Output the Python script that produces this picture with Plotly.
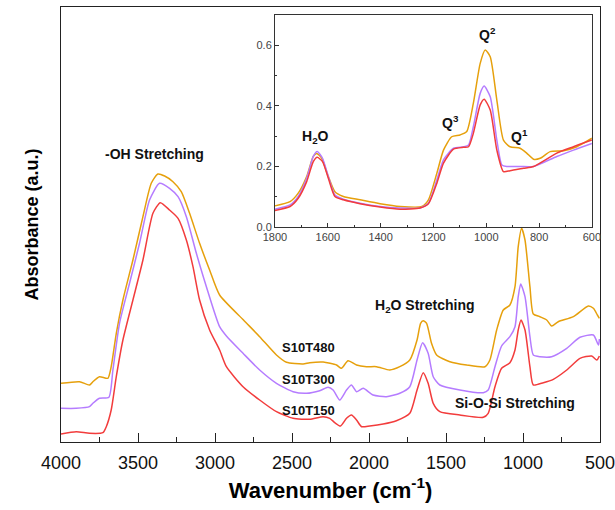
import plotly.graph_objects as go

# ---------------- main spectrum data ----------------
wn_480 = [4000, 3880, 3815, 3793, 3750, 3696, 3674, 3641, 3598, 3533, 3468, 3414, 3371, 3327, 3273, 3219,
          3165, 3100, 3035, 2970, 2815, 2710, 2601, 2536, 2428, 2385, 2298, 2211, 2179, 2136, 2081, 2016,
          1951, 1865, 1800, 1735, 1688, 1665, 1648, 1626, 1594, 1561, 1475, 1366, 1247, 1215, 1171, 1128,
          1085, 1052, 1031, 1009, 987, 955, 933, 890, 846, 814, 771, 673, 576, 543, 517, 504]
ab_480 = [0.587, 0.603, 0.57, 0.603, 0.653, 0.637, 0.753, 1.087, 1.42, 1.82, 2.253, 2.587, 2.68, 2.66, 2.603, 2.503,
          2.287, 1.987, 1.72, 1.47, 1.22, 1.053, 0.87, 0.797, 0.78, 0.793, 0.80, 0.77, 0.737, 0.813, 0.77, 0.753,
          0.753, 0.72, 0.753, 0.82, 1.02, 1.187, 1.213, 1.187, 0.987, 0.87, 0.803, 0.77, 0.753, 0.82, 1.12, 1.32,
          1.37, 1.553, 1.953, 2.137, 2.02, 1.553, 1.28, 1.253, 1.22, 1.16, 1.203, 1.253, 1.36, 1.337, 1.27, 1.237]

wn_300 = [4000, 3901, 3815, 3793, 3750, 3689, 3663, 3620, 3555, 3490, 3425, 3360, 3295, 3240, 3186, 3121,
          3056, 2970, 2926, 2818, 2710, 2601, 2493, 2406, 2320, 2266, 2233, 2190, 2146, 2114, 2081, 2038,
          1973, 1887, 1800, 1735, 1688, 1652, 1616, 1583, 1540, 1410, 1258, 1226, 1182, 1139, 1085, 1052,
          1031, 1015, 987, 955, 933, 890, 814, 716, 630, 543, 510, 504]
ab_300 = [0.337, 0.337, 0.353, 0.387, 0.437, 0.447, 0.72, 1.187, 1.587, 1.987, 2.42, 2.587, 2.537, 2.453, 2.253, 1.887,
          1.553, 1.153, 1.06, 0.887, 0.72, 0.587, 0.503, 0.487, 0.513, 0.547, 0.52, 0.42, 0.52, 0.57, 0.503, 0.537,
          0.47, 0.453, 0.487, 0.553, 0.82, 0.993, 0.887, 0.653, 0.57, 0.52, 0.493, 0.52, 0.753, 0.96, 1.053, 1.153,
          1.453, 1.58, 1.453, 1.053, 0.87, 0.853, 0.853, 0.937, 1.047, 1.07, 0.97, 1.03]

wn_150 = [4000, 3901, 3815, 3728, 3706, 3674, 3641, 3598, 3533, 3468, 3403, 3355, 3295, 3240, 3186, 3143,
          3100, 3035, 2970, 2926, 2818, 2710, 2601, 2493, 2385, 2298, 2255, 2222, 2185, 2146, 2114, 2081,
          2048, 1995, 1908, 1822, 1735, 1688, 1648, 1616, 1583, 1540, 1410, 1258, 1226, 1182, 1139, 1085,
          1052, 1031, 1013, 987, 955, 933, 868, 803, 716, 630, 554, 521, 504]
ab_150 = [0.08, 0.103, 0.087, 0.093, 0.153, 0.32, 0.653, 1.02, 1.42, 1.82, 2.287, 2.393, 2.32, 2.237, 2.02, 1.753,
          1.42, 1.12, 0.92, 0.753, 0.553, 0.42, 0.303, 0.237, 0.227, 0.253, 0.237, 0.193, 0.16, 0.237, 0.27, 0.22,
          0.153, 0.16, 0.18, 0.213, 0.287, 0.52, 0.693, 0.587, 0.387, 0.303, 0.27, 0.247, 0.287, 0.553, 0.737, 0.793,
          0.92, 1.12, 1.22, 1.12, 0.753, 0.57, 0.593, 0.627, 0.72, 0.837, 0.86, 0.82, 0.86]

# ---------------- inset data (1800-600 cm-1) ----------------
iw_480 = [1800, 1743, 1712, 1680, 1655, 1642, 1623, 1598, 1573, 1541, 1478, 1402, 1326, 1244, 1219, 1187,
          1162, 1131, 1099, 1074, 1049, 1023, 1004, 985, 960, 935, 910, 872, 847, 821, 796, 758, 707, 657, 600]
ia_480 = [0.070, 0.084, 0.112, 0.167, 0.233, 0.243, 0.227, 0.167, 0.117, 0.101, 0.090, 0.077, 0.068, 0.068, 0.090, 0.178,
          0.254, 0.298, 0.304, 0.315, 0.408, 0.540, 0.584, 0.562, 0.419, 0.287, 0.265, 0.260, 0.244, 0.224, 0.227, 0.249,
          0.252, 0.265, 0.293]

iw_300 = [1800, 1743, 1712, 1680, 1655, 1640, 1620, 1598, 1573, 1541, 1478, 1402, 1326, 1251, 1219, 1187,
          1162, 1124, 1086, 1067, 1049, 1023, 1008, 985, 960, 941, 922, 872, 821, 733, 670, 600]
ia_300 = [0.059, 0.073, 0.101, 0.161, 0.233, 0.249, 0.227, 0.167, 0.106, 0.092, 0.079, 0.068, 0.063, 0.063, 0.079, 0.156,
          0.222, 0.260, 0.265, 0.271, 0.331, 0.441, 0.465, 0.430, 0.287, 0.205, 0.200, 0.200, 0.200, 0.233, 0.254, 0.276]

iw_150 = [1800, 1743, 1712, 1680, 1655, 1640, 1620, 1598, 1573, 1541, 1478, 1402, 1326, 1251, 1219, 1187,
          1162, 1124, 1086, 1067, 1049, 1023, 1008, 985, 960, 935, 910, 859, 821, 733, 670, 600]
ia_150 = [0.055, 0.068, 0.095, 0.150, 0.216, 0.230, 0.216, 0.161, 0.101, 0.090, 0.077, 0.066, 0.059, 0.063, 0.077, 0.145,
          0.211, 0.257, 0.263, 0.265, 0.309, 0.403, 0.422, 0.386, 0.254, 0.183, 0.186, 0.194, 0.200, 0.244, 0.265, 0.287]

series_names = ["S10T480", "S10T300", "S10T150"]
colors = ["#E6A00C", "#B57CFF", "#F23C3C"]

FONT = "Liberation Sans, Arial, sans-serif"

fig = go.Figure()
main = [(wn_480, ab_480), (wn_300, ab_300), (wn_150, ab_150)]
ins = [(iw_480, ia_480), (iw_300, ia_300), (iw_150, ia_150)]
for (x, y), name, c in zip(main, series_names, colors):
    fig.add_trace(go.Scatter(x=x, y=y, mode="lines", name=name,
                             line=dict(color=c, width=1.5, shape="spline", smoothing=0.6),
                             xaxis="x", yaxis="y", showlegend=False))
for (x, y), name, c in zip(ins, series_names, colors):
    fig.add_trace(go.Scatter(x=x, y=y, mode="lines", name=name,
                             line=dict(color=c, width=1.5, shape="spline", smoothing=0.6),
                             xaxis="x2", yaxis="y2", showlegend=False))

main_ticks = [4000, 3500, 3000, 2500, 2000, 1500, 1000, 500]
inset_xticks = [1800, 1600, 1400, 1200, 1000, 800, 600]
inset_yticks = [0.0, 0.2, 0.4, 0.6]

fig.update_layout(
    width=615, height=510,
    margin=dict(l=61, r=15, t=7, b=68, autoexpand=False),
    paper_bgcolor="white", plot_bgcolor="white",
    font=dict(family=FONT, color="black"),
    xaxis=dict(range=[4000, 500], tickvals=main_ticks, ticks="inside", ticklen=9, tickwidth=1.3,
               tickcolor="#222", showline=True, linecolor="#222", linewidth=1.3, mirror=True,
               showgrid=False, zeroline=False, tickfont=dict(size=18, color="#111"), automargin=False,
               ticklabeloverflow="allow",
               minor=dict(ticks="inside", ticklen=5, dtick=250, tickcolor="#222", tickwidth=1.3),
               ticklabelstandoff=4,
               title=dict(text="<b>Wavenumber (cm<sup>-1</sup>)</b>", font=dict(size=22), standoff=10)),
    yaxis=dict(range=[0, 4.35], showticklabels=False, ticks="", showline=True, linecolor="#222",
               linewidth=1.3, mirror=True, showgrid=False, zeroline=False, automargin=False,
               title=dict(text="<b>Absorbance (a.u.)</b>", font=dict(size=18), standoff=16)),
    xaxis2=dict(domain=[0.397, 0.985], anchor="y2", range=[1800, 600], tickvals=inset_xticks,
                ticks="inside", ticklen=4, tickcolor="#333", showline=True, linecolor="#333", linewidth=1,
                mirror=True, showgrid=False, zeroline=False, tickfont=dict(size=11, color="#444"),
                automargin=False, ticklabeloverflow="allow",
                minor=dict(ticks="inside", ticklen=2, dtick=100, tickcolor="#333")),
    yaxis2=dict(domain=[0.494, 0.982], anchor="x2", range=[0, 0.7], tickvals=inset_yticks,
                tickformat=".1f", ticks="inside", ticklen=4, tickcolor="#333", showline=True,
                linecolor="#333", linewidth=1, mirror=True, showgrid=False, zeroline=False,
                tickfont=dict(size=11, color="#444"), automargin=False,
                minor=dict(ticks="inside", ticklen=2, dtick=0.1, tickcolor="#333")),
)

annots = [
    dict(x=3392, y=2.88, text="<b>-OH Stretching</b>", xanchor="center", size=14),
    dict(x=2580, y=0.95, text="<b>S10T480</b>", xanchor="left", size=13),
    dict(x=2580, y=0.63, text="<b>S10T300</b>", xanchor="left", size=13),
    dict(x=2580, y=0.32, text="<b>S10T150</b>", xanchor="left", size=13),
    dict(x=1637, y=1.36, text="<b>H<sub>2</sub>O Stretching</b>", xanchor="center", size=14),
    dict(x=1052, y=0.39, text="<b>Si-O-Si Stretching</b>", xanchor="center", size=14),
]
for a in annots:
    fig.add_annotation(x=a["x"], y=a["y"], xref="x", yref="y", text=a["text"], showarrow=False,
                       xanchor=a["xanchor"], yanchor="middle", font=dict(size=a["size"], color="#111", family=FONT))

inset_annots = [
    dict(x=1645, y=0.298, text="<b>H<sub>2</sub>O</b>"),
    dict(x=1137, y=0.348, text="<b>Q<sup>3</sup></b>"),
    dict(x=997, y=0.638, text="<b>Q<sup>2</sup></b>"),
    dict(x=876, y=0.300, text="<b>Q<sup>1</sup></b>"),
]
for a in inset_annots:
    fig.add_annotation(x=a["x"], y=a["y"], xref="x2", yref="y2", text=a["text"], showarrow=False,
                       xanchor="center", yanchor="middle", font=dict(size=14, color="#111", family=FONT))

fig.write_html("out.html")
